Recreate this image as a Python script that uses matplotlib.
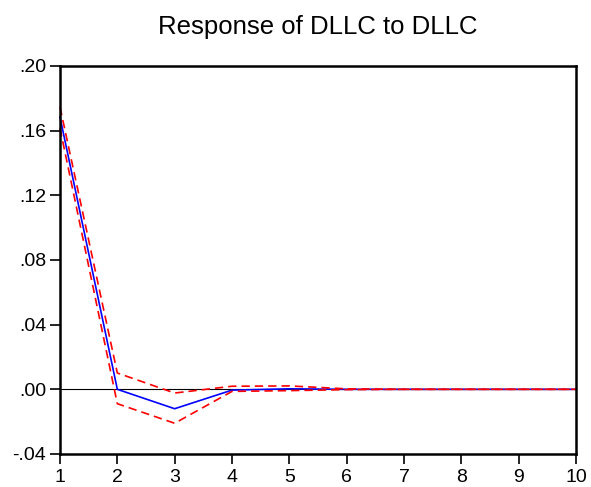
import matplotlib
matplotlib.use("Agg")
import matplotlib.pyplot as plt

periods = [1, 2, 3, 4, 5, 6, 7, 8, 9, 10]
response = [0.1684, 0.0000, -0.0120, -0.0005, 0.0003, 0.0000, 0.0000, 0.0000, 0.0000, 0.0000]
upper = [0.1746, 0.0101, -0.0023, 0.0019, 0.0021, 0.0003, 0.0000, 0.0000, 0.0000, 0.0000]
lower = [0.1615, -0.0089, -0.0210, -0.0013, -0.0008, -0.0002, 0.0000, 0.0000, 0.0000, 0.0000]
yticks = [-0.04, 0.00, 0.04, 0.08, 0.12, 0.16, 0.20]
ytick_labels = ["-.04", ".00", ".04", ".08", ".12", ".16", ".20"]

plt.rcParams['font.family'] = ['Liberation Sans', 'DejaVu Sans']

fig = plt.figure(figsize=(5.91, 4.87), dpi=100)
ax = fig.add_axes([0.1015, 0.0678, 0.8731, 0.7967])

ax.axhline(0, color='black', lw=0.8)
ax.plot(periods, response, color='blue', lw=1.2, clip_on=False)
ax.plot(periods, upper, color='red', lw=1.2, ls=(0, (5, 3)), clip_on=False)
ax.plot(periods, lower, color='red', lw=1.2, ls=(0, (5, 3)), clip_on=False)

ax.set_xlim(1, 10)
ax.set_ylim(-0.04, 0.20)
ax.set_xticks(periods)
ax.set_xticklabels([str(p) for p in periods])
ax.set_yticks(yticks)
ax.set_yticklabels(ytick_labels)
ax.tick_params(axis='both', direction='out', length=7, width=1.2, labelsize=14, colors='black')
ax.tick_params(axis='x', pad=4)
ax.tick_params(axis='y', pad=3)
for s in ax.spines.values():
    s.set_linewidth(1.8)

ax.set_title("Response of DLLC to DLLC", fontsize=18.5, pad=23)

fig.savefig("out.png", dpi=100)
